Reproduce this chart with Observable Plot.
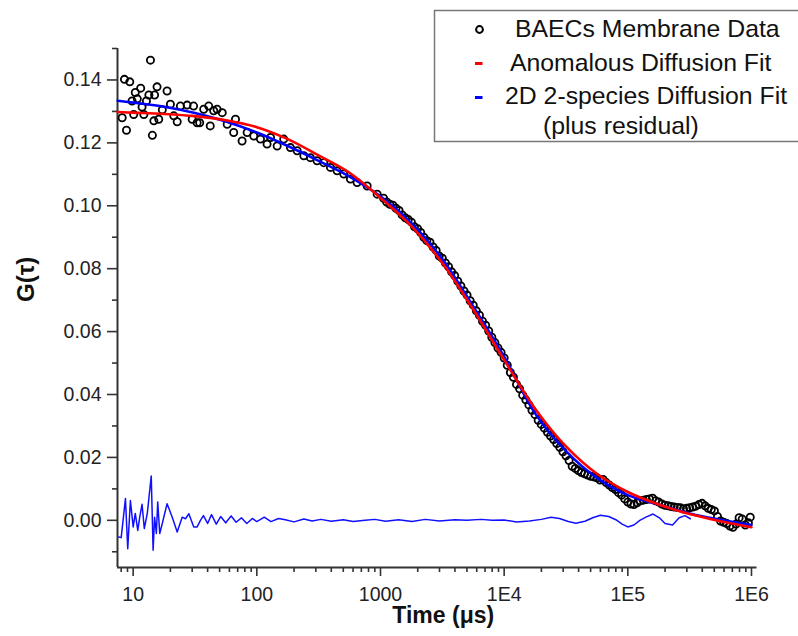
<!DOCTYPE html>
<html>
<head>
<meta charset="utf-8">
<script src="https://cdn.jsdelivr.net/npm/d3@7"></script>
<script src="https://cdn.jsdelivr.net/npm/@observablehq/plot@0.6"></script>
<style>
  html, body { margin: 0; padding: 0; background: #fff; overflow: hidden; }
  #chart { width: 798px; height: 636px; overflow: hidden; }
</style>
</head>
<body>
<div id="chart"></div>
<script>
// ---- Data ----
// Measured correlation data (time in µs, G(τ))
const dataT = [8.15,8.5,8.83,9.39,9.8,10.1,10.4,10.8,11.5,11.8,12.2,12.8,13.4,13.8,14.3,14.7,14.9,15.6,16.1,17.2,18.8,20.0,21.3,22.7,24.1,27.3,30.0,30.8,32.9,34.5,37.2,40.8,42,44.8,47.7,52.5,57.6,65,67.2,76,83.5,94.5,107,121,129,146,165,187,212,240,271,307,348,394,446,505,571,647,780,940,
  1122,1259,1413,1585,1778,1995,2239,2512,2818,3162,3548,3981,4467,5012,5623,6310,7079,7943,8913,10000,11220,12589,14125,15849,17783,19953,22387,25119,28184,31623,35481,39811,44668,50119,56234,63096,70795,79433,89125,100000,112202,125893,141254,158489,177828,199526,223872,251189,281838,316228,354813,398107,446684,501187,562341,630957,707946,794328,891251,977237,
  1059,1189,1334,1496,1679,1884,2113,2371,2661,2985,3350,3758,4217,4732,5309,5957,6683,7499,8414,9441,10593,11885,13335,14962,16788,18836,21135,23714,26607,29854,33497,37584,42170,47315,53088,59566,66834,74989,84140,94406,105925,118850,133352,149624,167880,188365,211349,237137,266073,298538,334965,375837,421697,473151,530884,595662,668344,749894,841395,944061];
const dataG = [0.1280,0.1402,0.1240,0.1394,0.1333,0.1290,0.1360,0.1340,0.1374,0.1314,0.1290,0.1333,0.1352,0.1463,0.1224,0.1270,0.1352,0.1378,0.1275,0.1305,0.1365,0.1323,0.1286,0.1267,0.1317,0.1320,0.1275,0.1317,0.1264,0.1264,0.1307,0.1317,0.1254,0.1302,0.1307,0.1296,0.1259,0.1233,0.1275,0.1206,0.1233,0.1222,0.1212,0.1196,0.1217,0.1190,0.1212,0.1185,0.1175,0.1159,0.1153,0.1143,0.1137,0.1122,0.1111,0.1101,0.1085,0.1074,0.1063,0.1037,
  0.1012,0.1002,0.0985,0.0962,0.0948,0.0927,0.0900,0.0884,0.0858,0.0833,0.0806,0.0778,0.0745,0.0716,0.0684,0.0652,0.0620,0.0582,0.0548,0.0516,0.0470,0.0432,0.0398,0.0367,0.0336,0.0305,0.0280,0.0257,0.0232,0.0205,0.0172,0.0158,0.0148,0.0140,0.0135,0.0130,0.0112,0.0098,0.0080,0.0058,0.0050,0.0062,0.0066,0.0070,0.0058,0.0048,0.0044,0.0041,0.0036,0.0040,0.0045,0.0054,0.0038,0.0030,-0.0002,-0.0010,-0.0022,0.0008,-0.0015,0.0010,
  0.1024,0.1005,0.0992,0.0971,0.0956,0.0933,0.0915,0.0889,0.0869,0.0840,0.0818,0.0790,0.0760,0.0729,0.0698,0.0666,0.0633,0.0602,0.0565,0.0534,0.0493,0.0455,0.0418,0.0383,0.0350,0.0318,0.0293,0.0268,0.0244,0.0218,0.0190,0.0165,0.0152,0.0144,0.0138,0.0128,0.0120,0.0104,0.0088,0.0068,0.0052,0.0056,0.0064,0.0068,0.0062,0.0052,0.0046,0.0042,0.0040,0.0038,0.0042,0.0050,0.0046,0.0034,0.0012,-0.0006,-0.0018,-0.0012,0.0004,-0.0008];

// 2D 2-species diffusion fit (blue)
const fitT = [7.5,10,17.8,31.6,56.2,100,178,316,562,1000,1778,3162,5623,10000,17783,31623,56234,100000,177828,316228,562341,1000000];
const blueG = [0.1334,0.1328,0.1315,0.1295,0.1268,0.1233,0.1190,0.1143,0.1093,0.1030,0.0945,0.0830,0.0680,0.0520,0.0340,0.0220,0.0135,0.0080,0.0050,0.0022,0.0002,-0.0015];
// Anomalous diffusion fit (red)
const redG  = [0.1298,0.1296,0.1292,0.1285,0.1272,0.1250,0.1212,0.1160,0.1105,0.1025,0.0935,0.0818,0.0670,0.0510,0.0355,0.0235,0.0148,0.0090,0.0050,0.0020,-0.0003,-0.0022];

// Residual of the 2-species fit
const resT = [7.65,8.0,8.66,9.04,9.5,10,10.4,10.9,11.3,11.8,12.3,13.0,14.0,14.5,14.9,15.4,15.8,16.4,17.2,18.8,20.7,22.7,24.9,26.5,28.2,30.9,32.9,35,37,40,43,47,51,56,62,68,75,83,92,100,115,130,150,170,200,240,280,330,400,500,600,750,900,1100,1400,1800,2300,3000,4000,5000,6500,8000,10000,12600,16000,20000,24000,28000,33000,38000,45000,52000,60000,70000,80000,90000,100000,112000,125000,140000,160000,180000,200000,230000,260000,290000,320000];
const resG = [-0.0053,-0.0055,0.0069,-0.0090,0.0063,-0.0021,0.0022,-0.0032,0.0010,0.0051,-0.0026,0.0021,0.0141,-0.0095,0.0010,-0.0042,0.0058,-0.0042,-0.0010,0.0053,0.0010,-0.0037,0.0010,0.0005,0.0021,-0.0021,-0.0021,0.0000,0.0015,-0.0010,0.0018,-0.0012,0.0012,-0.0008,0.0014,-0.0006,0.0008,-0.0010,0.0006,-0.0004,0.0010,-0.0004,0.0006,0.0002,-0.0005,0.0004,-0.0002,0.0003,-0.0003,0.0002,-0.0004,0.0000,0.0003,-0.0003,0.0002,-0.0004,0.0003,-0.0002,0.0002,0.0000,0.0003,0.0000,0.0001,-0.0005,-0.0002,0.0003,0.0010,0.0006,-0.0004,-0.0009,-0.0003,0.0008,0.0016,0.0012,0.0002,-0.0012,-0.0021,-0.0015,0.0000,0.0010,0.0020,0.0008,-0.0010,-0.0015,0.0008,0.0015,0.0005];

// Axis ticks
const yMajor = [0,0.02,0.04,0.06,0.08,0.10,0.12,0.14];
const yMinor = [-0.01,0.01,0.03,0.05,0.07,0.09,0.11,0.13,0.15];
const xMajor = [10,100,1000,1e4,1e5,1e6];
const xMajorLabels = ["10","100","1000","1E4","1E5","1E6"];
const xMinor = [8,9,20,30,40,50,60,70,80,90,200,300,400,500,600,700,800,900,2000,3000,4000,5000,6000,7000,8000,9000,2e4,3e4,4e4,5e4,6e4,7e4,8e4,9e4,2e5,3e5,4e5,5e5,6e5,7e5,8e5,9e5];

const legendLabels = ["BAECs Membrane Data","Anomalous Diffusion Fit","2D 2-species Diffusion Fit","(plus residual)"];

// ---- Build tables ----
const data = dataT.map((t,i)=>({t, g: dataG[i]}));
const blue = fitT.map((t,i)=>({t, g: blueG[i]}));
const red = fitT.map((t,i)=>({t, g: redG[i]}));
const res = resT.map((t,i)=>({t, g: resG[i]}));
const xLab = new Map(xMajor.map((d,i)=>[d, xMajorLabels[i]]));

const xDomain = [7.47, 1.108e6];
const yDomain = [-0.015, 0.15];
const FONT = "'Liberation Sans', Arial, Helvetica, sans-serif";

const chart = Plot.plot({
  width: 798,
  height: 636,
  marginLeft: 117,
  marginRight: 41.5,
  marginTop: 48,
  marginBottom: 69,
  style: {fontFamily: FONT, fontSize: "19.5px", color: "#222", background: "#fff", overflow: "visible"},
  x: {type: "log", domain: xDomain},
  y: {domain: yDomain},
  marks: [
    Plot.axisY(yMajor, {tickSize: 10, tickPadding: 6, tickFormat: d3.format(".2f"), label: null, strokeWidth: 1.6, stroke: "#333"}),
    Plot.axisY(yMinor, {tickSize: 5, tickFormat: () => "", label: null, strokeWidth: 1.6, stroke: "#333"}),
    Plot.axisX(xMajor, {tickSize: 9, tickPadding: 11, tickFormat: d => xLab.get(d), label: null, strokeWidth: 1.6, stroke: "#333"}),
    Plot.axisX(xMinor, {tickSize: 5, tickFormat: () => "", label: null, strokeWidth: 1.6, stroke: "#333"}),
    Plot.ruleX([xDomain[0]], {stroke: "#333", strokeWidth: 2}),
    Plot.ruleY([yDomain[0]], {stroke: "#333", strokeWidth: 2}),
    Plot.dot(data, {x: "t", y: "g", r: 3.6, stroke: "#000", strokeWidth: 1.8, fill: "none"}),
    Plot.line(res, {x: "t", y: "g", stroke: "#1010ff", strokeWidth: 1.5}),
    Plot.line(blue, {x: "t", y: "g", stroke: "#0000ff", strokeWidth: 2.6, curve: "catmull-rom"}),
    Plot.line(red, {x: "t", y: "g", stroke: "#ff0000", strokeWidth: 2.6, curve: "catmull-rom"}),
    Plot.text(["G(τ)"], {frameAnchor: "left", dx: -91.5, dy: -6, rotate: -90, fontSize: 24, fontWeight: "bold", fill: "#111"}),
    Plot.text(["Time (μs)"], {frameAnchor: "bottom", dx: 6, dy: 55.5, fontSize: 23, fontWeight: "bold", fill: "#111"})
  ]
});

document.getElementById("chart").appendChild(chart);

// ---- Legend box (inside the plot area, top right) ----
const svg = d3.select(chart);
const lg = svg.append("g").attr("font-family", FONT).attr("font-size", 24.8).attr("fill", "#111").attr("text-anchor", "start");
lg.append("rect").attr("x", 434.5).attr("y", 10.5).attr("width", 380).attr("height", 131)
  .attr("fill", "#fff").attr("stroke", "#777").attr("stroke-width", 1.5);
lg.append("circle").attr("cx", 479.5).attr("cy", 29.5).attr("r", 3.4)
  .attr("fill", "none").attr("stroke", "#000").attr("stroke-width", 2);
lg.append("line").attr("x1", 475).attr("x2", 482.5).attr("y1", 63.5).attr("y2", 63.5)
  .attr("stroke", "#ff0000").attr("stroke-width", 3);
lg.append("line").attr("x1", 475).attr("x2", 482.5).attr("y1", 97.5).attr("y2", 97.5)
  .attr("stroke", "#0000ff").attr("stroke-width", 3);
const lx = [515, 510, 505, 543];
const ly = [37, 70.5, 104, 134];
legendLabels.forEach((s, i) => {
  lg.append("text").attr("x", lx[i]).attr("y", ly[i]).attr("text-anchor", "start").text(s);
});
</script>
</body>
</html>
